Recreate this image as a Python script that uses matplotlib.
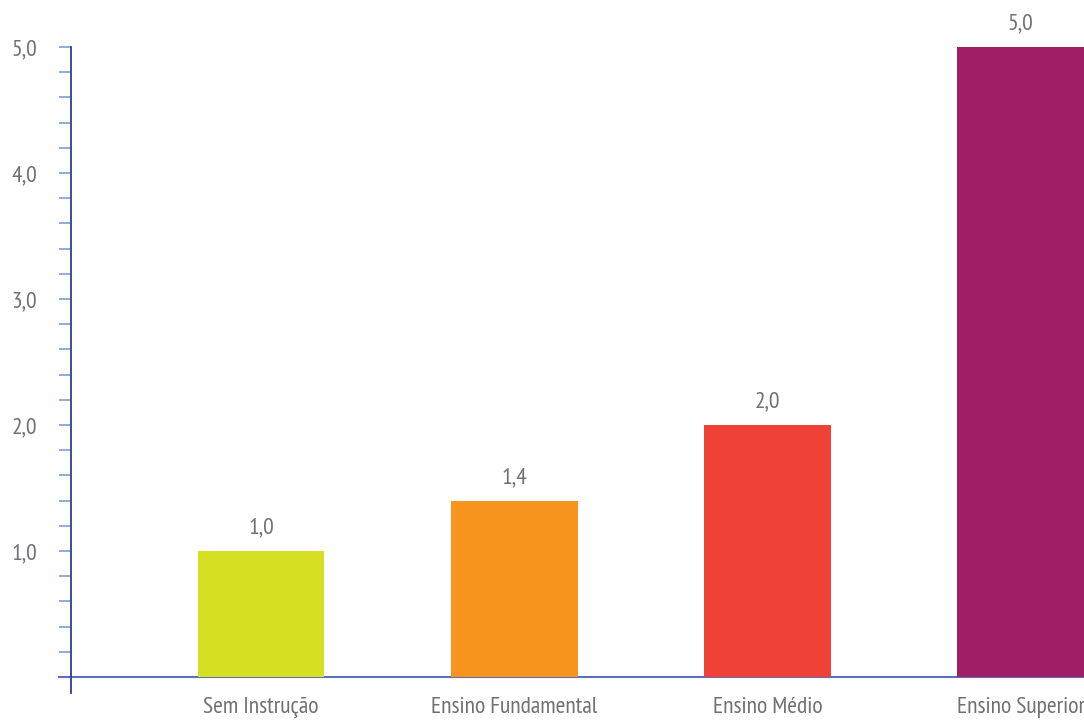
import matplotlib.pyplot as plt
from matplotlib.ticker import FixedLocator, FuncFormatter
import numpy as np

plt.rcParams['font.family'] = ['PT Sans Narrow', 'Roboto Condensed', 'Archivo Narrow', 'DejaVu Sans']

categorias = ["Sem Instrução", "Ensino Fundamental", "Ensino Médio", "Ensino Superior"]
valores = [1.0, 1.4, 2.0, 5.0]
cores = ["#d6df22", "#f7941e", "#ef4136", "#a01e63"]

cinza = "#707174"
azul_eixo = "#2e3f92"
azul_base = "#5a6fb5"
azul_tick = "#8eaed8"

fig = plt.figure(figsize=(10.84, 7.2), dpi=100)
ax = fig.add_axes([71 / 1084, 27 / 720, 1013 / 1084, 646 / 720])

x = np.arange(1, len(categorias) + 1)
ax.bar(x, valores, width=0.5, color=cores, zorder=2)

ax.set_xlim(0.25, 4.25)
ax.set_ylim(-0.127, 5.0)

# eixo vertical e linha de base
for s in ["top", "right", "bottom"]:
    ax.spines[s].set_visible(False)
ax.spines["left"].set_color(azul_eixo)
ax.spines["left"].set_linewidth(1.3)
ax.plot([-12 / 1013, 1], [0, 0], color=azul_base, lw=1.5,
        transform=ax.get_yaxis_transform(), clip_on=False, zorder=1)

ax.yaxis.set_major_locator(FixedLocator([1, 2, 3, 4, 5]))
ax.yaxis.set_minor_locator(FixedLocator(np.round(np.arange(0.2, 5.01, 0.2), 1)))
ax.yaxis.set_major_formatter(FuncFormatter(lambda v, p: f"{v:.1f}".replace(".", ",")))
ax.tick_params(axis="y", which="both", direction="out", length=8.6, width=1.4,
               color=azul_tick, labelcolor=cinza, labelsize=17, pad=16)
ax.set_xticks([])

for xi, v, nome in zip(x, valores, categorias):
    ax.annotate(f"{v:.1f}".replace(".", ","), (xi, v), xytext=(0, 9),
                textcoords="offset points", ha="center", va="bottom",
                color=cinza, fontsize=17)
    ax.text(xi, -0.127 - 4 / 126, nome, ha="center", va="top",
            color=cinza, fontsize=17)

fig.savefig("out.png", dpi=100)
